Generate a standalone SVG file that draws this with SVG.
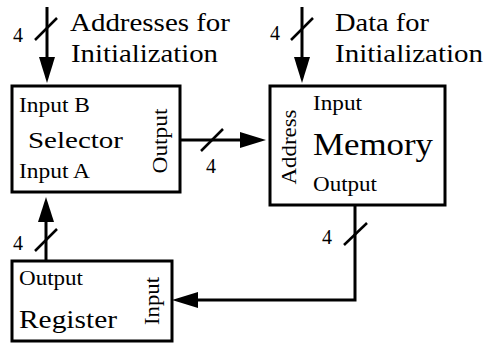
<svg xmlns="http://www.w3.org/2000/svg" width="486" height="343" viewBox="0 0 486 343">
<style>
text{font-family:"Liberation Serif","Times New Roman",serif;fill:#000}
.box{fill:#fff;stroke:#000;stroke-width:3}
.w{fill:none;stroke:#000;stroke-width:3}
.s{fill:none;stroke:#000;stroke-width:2.5}
.lab{font-size:20px}
.big{font-size:25px}
.head{fill:#000}
</style>
<rect width="486" height="343" fill="#fff"/>
<g id="connectors">
  <!-- addresses for initialization -> selector -->
  <line class="w" x1="47" y1="7" x2="47" y2="62"/>
  <polygon class="head" points="39,57 55,57 47,83"/>
  <line class="s" x1="35" y1="40" x2="57" y2="18"/>
  <text class="lab" x="13" y="42">4</text>
  <!-- data for initialization -> memory -->
  <line class="w" x1="302" y1="7" x2="302" y2="62"/>
  <polygon class="head" points="294,57 310,57 302,83"/>
  <line class="s" x1="291" y1="40" x2="313" y2="18"/>
  <text class="lab" x="270" y="40">4</text>
  <!-- selector output -> memory address -->
  <line class="w" x1="180" y1="140" x2="244" y2="140"/>
  <polygon class="head" points="240,132 240,148 266,140"/>
  <line class="s" x1="201" y1="151" x2="223" y2="129"/>
  <text class="lab" x="206" y="173">4</text>
  <!-- memory output -> register input -->
  <polyline class="w" points="355,205 355,300 194,300"/>
  <polygon class="head" points="198,292 198,308 172,300"/>
  <line class="s" x1="344" y1="245" x2="367" y2="223"/>
  <text class="lab" x="322" y="244">4</text>
  <!-- register output -> selector input A -->
  <line class="w" x1="46" y1="261" x2="46" y2="216"/>
  <polygon class="head" points="38,222 54,222 46,197"/>
  <line class="s" x1="35" y1="251" x2="57" y2="229"/>
  <text class="lab" x="13" y="250">4</text>
  <!-- top labels -->
  <text class="big" x="70" y="31" textLength="160" lengthAdjust="spacingAndGlyphs">Addresses for</text>
  <text class="big" x="71" y="62" textLength="147" lengthAdjust="spacingAndGlyphs">Initialization</text>
  <text class="big" x="335" y="31" textLength="94" lengthAdjust="spacingAndGlyphs">Data for</text>
  <text class="big" x="335" y="62" textLength="148" lengthAdjust="spacingAndGlyphs">Initialization</text>
</g>
<g id="selector">
  <rect class="box" x="12" y="86" width="168" height="106"/>
  <text class="lab" x="19" y="112" textLength="71" lengthAdjust="spacingAndGlyphs">Input B</text>
  <text style="font-size:24px" x="28" y="148" textLength="95" lengthAdjust="spacingAndGlyphs">Selector</text>
  <text class="lab" x="19" y="178" textLength="71" lengthAdjust="spacingAndGlyphs">Input A</text>
  <text class="lab" transform="translate(167,141) rotate(-90)" text-anchor="middle" textLength="65" lengthAdjust="spacingAndGlyphs">Output</text>
</g>
<g id="memory">
  <rect class="box" x="270" y="86" width="175" height="119"/>
  <text class="lab" x="313" y="110" textLength="49" lengthAdjust="spacingAndGlyphs">Input</text>
  <text style="font-size:32px" x="313" y="155" textLength="120" lengthAdjust="spacingAndGlyphs">Memory</text>
  <text class="lab" x="313" y="191" textLength="64" lengthAdjust="spacingAndGlyphs">Output</text>
  <text class="lab" transform="translate(296,147) rotate(-90)" text-anchor="middle" textLength="75" lengthAdjust="spacingAndGlyphs">Address</text>
</g>
<g id="register">
  <rect class="box" x="12" y="261" width="160" height="80"/>
  <text class="lab" x="19" y="285" textLength="64" lengthAdjust="spacingAndGlyphs">Output</text>
  <text class="big" x="19" y="328" textLength="98" lengthAdjust="spacingAndGlyphs">Register</text>
  <text class="lab" transform="translate(159,301) rotate(-90)" text-anchor="middle" textLength="48" lengthAdjust="spacingAndGlyphs">Input</text>
</g>
</svg>
